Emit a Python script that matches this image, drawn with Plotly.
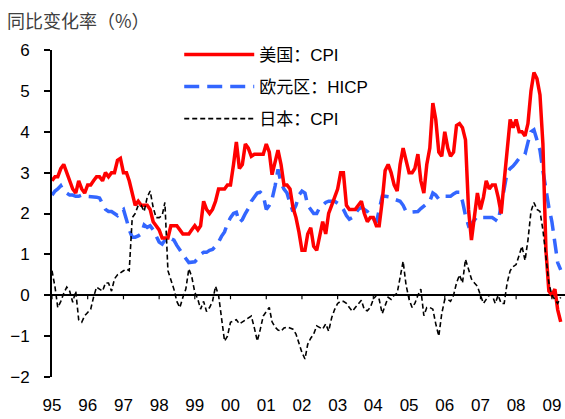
import pandas as pd
import plotly.graph_objects as go

months = pd.date_range("1995-01-01", periods=172, freq="MS")

tick_years = list(range(1995, 2010))
tick_labels = ["95", "96", "97", "98", "99", "00", "01", "02", "03", "04", "05", "06", "07", "08", "09"]

us_cpi = [
    2.8, 2.9, 2.9, 3.1, 3.2, 3.0, 2.8, 2.6, 2.5, 2.8, 2.6, 2.5,
    2.7, 2.7, 2.8, 2.9, 2.9, 2.8, 3.0, 2.9, 3.0, 3.0, 3.3, 3.35,
    3.0, 3.0, 2.8, 2.5, 2.2, 2.3, 2.2, 2.2, 2.2, 2.1, 1.8, 1.7,
    1.6, 1.4, 1.4, 1.4, 1.7, 1.7, 1.7, 1.6, 1.5, 1.5, 1.5, 1.6,
    1.7, 1.6, 1.7, 2.3, 2.1, 2.0, 2.1, 2.3, 2.6, 2.6, 2.6, 2.7,
    2.7, 3.2, 3.75, 3.1, 3.2, 3.7, 3.6, 3.4, 3.45, 3.45, 3.45, 3.45,
    3.7, 3.5, 2.95, 3.3, 3.55, 3.2, 2.7, 2.7, 2.6, 2.15, 1.9, 1.55,
    1.1, 1.1, 1.5, 1.65, 1.2, 1.1, 1.5, 1.8, 1.5, 2.0, 2.2, 2.4,
    2.6, 3.0, 3.0, 2.2, 2.1, 2.1, 2.1, 2.2, 2.3, 2.0, 1.8, 1.9,
    1.9, 1.7, 1.7, 2.3, 3.05, 3.2, 3.0, 2.7, 2.55, 3.2, 3.6, 3.3,
    3.0, 3.0, 3.1, 3.45, 2.8, 2.5, 3.2, 3.6, 4.7, 4.3, 3.5, 3.4,
    4.0, 3.6, 3.4, 3.5, 4.15, 4.2, 4.1, 3.8, 2.1, 1.35, 2.0, 2.5,
    2.1, 2.4, 2.8, 2.6, 2.7, 2.7, 2.4, 2.0, 2.8, 3.5, 4.3, 4.1,
    4.3, 4.0, 4.0, 3.9, 4.2, 5.0, 5.45, 5.3, 4.9, 3.7, 1.1, 0.1,
    0.0, 0.15, -0.35, -0.65,
]

euro_hicp = [
    2.45, 2.55, 2.6, 2.68, 2.55, 2.5, 2.45, 2.45, 2.42, 2.42, 2.45, 2.42,
    2.42, 2.4, 2.42, 2.4, 2.38, 2.25, 2.1, 2.05, 2.05, 2.0, 1.95, 2.05,
    2.1, 1.85, 1.6, 1.42, 1.42, 1.45, 1.5, 1.72, 1.66, 1.7, 1.6, 1.45,
    1.3, 1.25, 1.35, 1.42, 1.38, 1.35, 1.22, 1.1, 1.0, 0.9, 0.8, 0.8,
    0.82, 0.9, 1.0, 1.05, 1.05, 1.1, 1.12, 1.2, 1.3, 1.44, 1.55, 1.75,
    1.9, 2.0, 2.03, 1.78, 1.85, 2.0, 2.12, 2.3, 2.42, 2.5, 2.52, 2.45,
    2.1, 2.2, 2.35, 2.67, 3.08, 2.75, 2.6, 2.5, 2.25, 2.05, 2.2, 2.45,
    2.55, 2.5, 2.2, 2.1, 2.0, 2.0, 2.15, 2.2, 2.27, 2.3, 2.3, 2.3,
    2.25, 2.2, 2.1, 1.95, 1.86, 1.9, 2.0, 2.1, 2.15, 2.1, 2.05, 1.95,
    1.88, 1.78, 2.1, 2.42, 2.42, 2.42, 2.4, 2.35, 2.32, 2.3, 2.2, 2.05,
    2.03, 2.03, 2.03, 2.05, 2.12, 2.18, 2.25, 2.3, 2.5, 2.45, 2.35, 2.4,
    2.42, 2.42, 2.42, 2.48, 2.52, 2.52, 2.3, 1.95, 1.7, 1.75, 1.85, 1.93,
    1.9, 1.9, 1.9, 1.9, 1.9, 1.85, 1.8, 2.2, 2.6, 3.0, 3.1, 3.16,
    3.25, 3.35, 3.38, 3.45, 3.74, 4.0, 4.05, 3.8, 3.55, 3.05, 2.52, 2.15,
    1.8, 1.25, 0.8, 0.62,
]

japan_cpi = [
    0.6, 0.2, -0.3, -0.15, 0.05, 0.2, 0.1, -0.17, 0.1, -0.6, -0.66, -0.5,
    -0.42, -0.34, -0.05, 0.2, 0.15, 0.1, 0.3, 0.3, 0.1, 0.4, 0.5, 0.56,
    0.6, 0.64, 0.6, 1.9, 2.0, 2.2, 2.2, 2.05, 2.4, 2.55, 2.15, 1.9,
    1.9, 1.95, 2.27, 0.6, 0.4, 0.15, -0.15, -0.3, -0.05, 0.15, 0.65, 0.45,
    0.07, -0.1, -0.34, -0.15, -0.4, -0.3, -0.15, 0.22, 0.0, -0.6, -1.12, -1.0,
    -0.66, -0.63, -0.6, -0.7, -0.65, -0.59, -0.55, -0.51, -0.8, -1.12, -0.83, -0.51,
    -0.4, -0.3, -0.65, -0.78, -0.85, -0.88, -0.8, -0.78, -0.8, -0.83, -0.95, -1.2,
    -1.4, -1.56, -1.2, -1.05, -0.95, -0.75, -0.78, -0.83, -0.7, -0.88, -0.55, -0.35,
    -0.2, -0.15, -0.15, -0.2, -0.3, -0.39, -0.3, -0.2, -0.12, -0.35, -0.38, -0.3,
    -0.1, 0.0, -0.1, -0.45, -0.25, -0.05, -0.1, 0.0, 0.05, 0.45, 0.83, 0.25,
    -0.1, -0.3, -0.2, 0.0, 0.15, -0.5, -0.3, -0.3, -0.34, -0.7, -1.0, -0.45,
    -0.1, -0.1, -0.15, 0.0, 0.3, 0.5, 0.3, 0.88, 0.6, 0.4, 0.3, 0.22,
    0.0, -0.2, -0.1, 0.0, 0.0, -0.2, 0.0, -0.2, -0.2, 0.3, 0.6, 0.7,
    0.75, 1.0, 1.2, 0.85, 1.35, 2.05, 2.27, 2.1, 2.05, 1.6, 0.9, 0.3,
    0.0, -0.1, -0.2, -0.05,
]

names = ["美国：CPI", "欧元区：HICP", "日本：CPI"]

font_family = "Liberation Sans, Arial, Noto Sans CJK SC, sans-serif"

fig = go.Figure()
fig.add_trace(go.Scatter(
    x=months, y=euro_hicp, name=names[1], mode="lines", legendrank=2, legendgroup="b",
    line=dict(color="#3366FF", width=3.5, dash="15px,8px"),
))
fig.add_trace(go.Scatter(
    x=months, y=us_cpi, name=names[0], mode="lines", legendrank=1, legendgroup="a",
    line=dict(color="#FF0000", width=3.5),
))
fig.add_trace(go.Scatter(
    x=months, y=japan_cpi, name=names[2], mode="lines", legendrank=3, legendgroup="c",
    line=dict(color="#000000", width=1.6, dash="5px,3px"),
))

tickvals = [pd.Timestamp(f"{y}-01-01") for y in tick_years]
xrange = ["1995-01-01", "2009-05-15"]

# small downward ticks on the zero line, one per year tick
shapes = [
    dict(type="line", xref="x", yref="y", ysizemode="pixel", yanchor=0,
         x0=t, x1=t, y0=0, y1=-4, line=dict(color="#000000", width=1.2))
    for t in tickvals
]

fig.update_layout(
    width=565, height=419,
    margin=dict(l=52, r=0, t=50, b=42, autoexpand=False),
    paper_bgcolor="white", plot_bgcolor="white",
    font=dict(family=font_family, color="#000000"),
    showlegend=True,
    legend=dict(
        x=0.248, y=1.04, xanchor="left", yanchor="top",
        bgcolor="rgba(0,0,0,0)", itemwidth=70,
        font=dict(size=17, color="#000000", family=font_family),
        tracegroupgap=7,
    ),
    xaxis=dict(
        type="date", range=xrange, tickvals=tickvals, ticktext=tick_labels,
        showgrid=False, zeroline=False, showline=False, automargin=False,
        ticks="outside", ticklen=13, tickcolor="rgba(0,0,0,0)",
        tickfont=dict(size=17, color="#000000"),
    ),
    yaxis=dict(
        range=[-2, 6], tickvals=[-2, -1, 0, 1, 2, 3, 4, 5, 6],
        showgrid=False, automargin=False,
        zeroline=True, zerolinecolor="#000000", zerolinewidth=1.5,
        showline=True, linecolor="#000000", linewidth=2,
        ticks="outside", ticklen=6, tickwidth=1.5, tickcolor="#000000",
        tickfont=dict(size=17, color="#000000"), ticklabelstandoff=11,
    ),
    shapes=shapes,
    annotations=[dict(
        text="同比变化率（%）", xref="paper", yref="paper",
        x=-0.092, y=1.092, xanchor="left", yanchor="middle", showarrow=False,
        font=dict(size=18, color="#404040", family="Noto Sans CJK SC, sans-serif"),
    )],
)

fig.write_html("out.html", config={"displayModeBar": False},
               post_script="document.body.style.margin='0';")
